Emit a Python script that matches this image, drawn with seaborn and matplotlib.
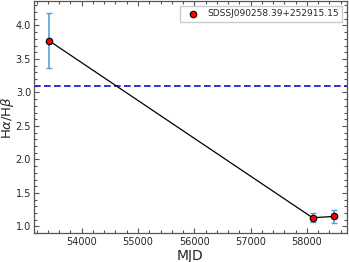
import seaborn as sns
import matplotlib.pyplot as plt
import numpy as np
import pandas as pd

# data
mjd = [53414, 58100, 58480]
ratio = [3.775, 1.13, 1.15]
ratio_err = [0.41, 0.07, 0.10]
name = 'SDSSJ090258.39+252915.15'
case_b = 3.1

df = pd.DataFrame({'MJD': mjd, 'ratio': ratio, 'err': ratio_err})

sns.set_style('ticks')
plt.rcParams['font.family'] = ['DejaVu Sans']

fig = plt.figure(figsize=(3.49, 2.62), dpi=100)
ax = fig.add_axes([0.097, 0.11, 0.897, 0.885])

ax.errorbar(df['MJD'], df['ratio'], yerr=df['err'], fmt='none',
            ecolor='#5a9fd4', elinewidth=1.2, capsize=2.3, capthick=1, zorder=2)
sns.lineplot(data=df, x='MJD', y='ratio', color='black', lw=0.9, ax=ax, zorder=3)
sns.scatterplot(data=df, x='MJD', y='ratio', color='red', edgecolor='black',
                linewidth=0.8, s=22, label=name, ax=ax, zorder=4)
ax.axhline(case_b, color='#1010d0', ls='--', lw=1.2, dashes=(4, 2))

ax.set_xlim(53150, 58710)
ax.set_ylim(0.9, 4.36)
ax.set_xticks([54000, 55000, 56000, 57000, 58000])
ax.set_yticks([1.0, 1.5, 2.0, 2.5, 3.0, 3.5, 4.0])
ax.minorticks_on()
ax.tick_params(which='both', direction='in', top=True, right=True,
               labelsize=7, color='#555555', width=0.8)
ax.tick_params(which='major', length=3.5)
ax.tick_params(which='minor', length=2)
ax.tick_params(axis='y', which='major', pad=2)
ax.tick_params(axis='x', which='major', pad=3)
for s in ax.spines.values():
    s.set_color('#555555')
    s.set_linewidth(0.9)

ax.set_xlabel('MJD', fontsize=10, labelpad=1)
ax.set_ylabel(r'H$\alpha$/H$\beta$', fontsize=9.5)
ax.yaxis.set_label_coords(-0.057, 0.5)
ax.legend(loc='upper right', fontsize=6.5, handletextpad=0.6, borderpad=0.4,
          frameon=True, framealpha=1, edgecolor='#cccccc', fancybox=False)

fig.savefig('out.png', dpi=100)
